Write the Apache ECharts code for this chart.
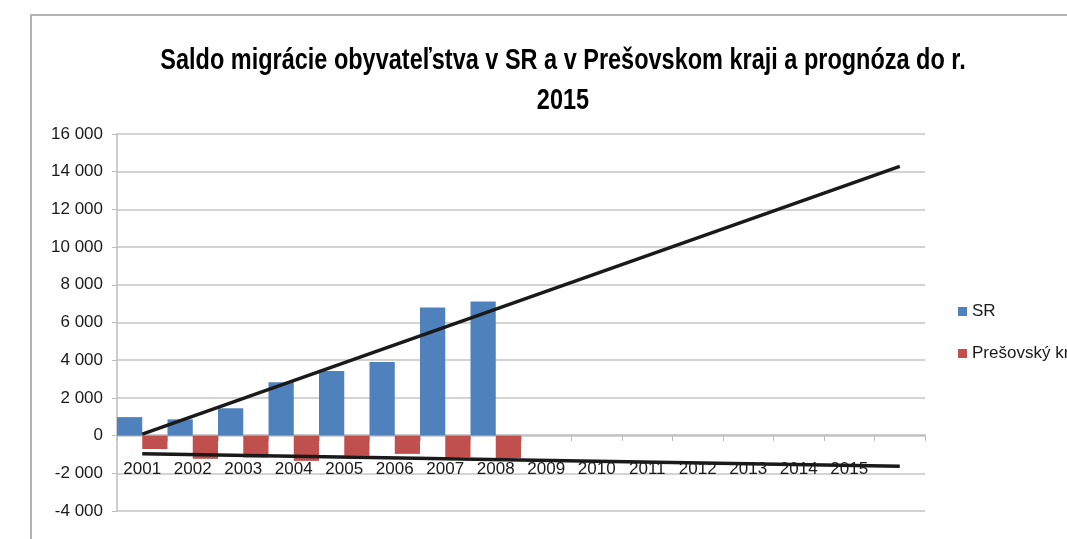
<!DOCTYPE html>
<html>
<head>
<meta charset="utf-8">
<title>Saldo migrácie</title>
<script src="https://cdn.jsdelivr.net/npm/echarts@6/dist/echarts.min.js"></script>
<style>
  html, body { margin: 0; padding: 0; background: #fff; }
  #chart { width: 1067px; height: 539px; }
</style>
</head>
<body>
<div id="chart"></div>
<script>
// roky (posledná kategória je prázdna, len pre koniec trendu)
const years = ['2001', '2002', '2003', '2004', '2005', '2006', '2007', '2008',
  '2009', '2010', '2011', '2012', '2013', '2014', '2015', '']

// saldo migrácie - odčítané z grafu
const srData = [980, 860, 1450, 2830, 3430, 3910, 6790, 7110]
const presovData = [-710, -1230, -1160, -1340, -1070, -970, -1150, -1190]

// lineárne trendy (začiatok 2001, koniec za 2015)
const srTrend = [80, null, null, null, null, null, null, null,
  null, null, null, null, null, null, null, 14280]
const presovTrend = [-960, null, null, null, null, null, null, null,
  null, null, null, null, null, null, null, -1630]

const titleLines = ['Saldo migrácie obyvateľstva v SR a v Prešovskom kraji a prognóza do r.', '2015']

const fontName = '"Liberation Sans", Arial, sans-serif'

const chart = echarts.init(document.getElementById('chart'))

const fmt = (v) => String(v).replace(/\B(?=(\d{3})+(?!\d))/g, ' ')

const titleText = (txt, y) => ({
  type: 'text',
  x: 563,
  y: y,
  scaleX: 0.81,
  style: {
    x: 0,
    y: 0,
    text: txt,
    align: 'center',
    verticalAlign: 'middle',
    font: 'bold 29px ' + fontName,
    fill: '#000'
  }
})

chart.setOption({
  animation: false,
  textStyle: { fontFamily: fontName },
  graphic: [
    {
      type: 'rect',
      shape: { x: 31, y: 15, width: 1100, height: 600 },
      style: { fill: 'none', stroke: '#b4b4b4', lineWidth: 2 },
      z: -1
    },
    titleText(titleLines[0], 61),
    titleText(titleLines[1], 101)
  ],
  legend: {
    orient: 'vertical',
    left: 953,
    top: 298,
    itemWidth: 9,
    itemHeight: 9,
    itemGap: 25,
    icon: 'rect',
    data: ['SR', 'Prešovský kraj'],
    textStyle: { fontFamily: fontName, fontSize: 17, color: '#1a1a1a' }
  },
  grid: {
    left: 117,
    right: 142,
    top: 134,
    bottom: 28,
    containLabel: false,
    outerBoundsMode: 'none'
  },
  xAxis: {
    type: 'category',
    data: years,
    boundaryGap: true,
    offset: -76,
    axisLine: { onZero: false, lineStyle: { color: '#bcbcbc', width: 1.5 } },
    axisTick: { show: true, length: 6, lineStyle: { color: '#bcbcbc' } },
    axisLabel: {
      margin: 26,
      fontFamily: fontName,
      fontSize: 17,
      color: '#1a1a1a',
      interval: 0
    },
    splitLine: { show: false }
  },
  yAxis: {
    type: 'value',
    min: -4000,
    max: 16000,
    interval: 2000,
    axisLine: { show: true, lineStyle: { color: '#bcbcbc', width: 1.5 } },
    axisTick: { show: true, length: 5, lineStyle: { color: '#bcbcbc' } },
    axisLabel: {
      margin: 14,
      fontFamily: fontName,
      fontSize: 17,
      color: '#1a1a1a',
      formatter: fmt
    },
    splitLine: { show: true, lineStyle: { color: '#c4c4c4', width: 1.5 } }
  },
  series: [
    {
      name: 'SR',
      type: 'bar',
      data: srData,
      barGap: '0%',
      barCategoryGap: '0%',
      itemStyle: { color: '#4f81bd' }
    },
    {
      name: 'Prešovský kraj',
      type: 'bar',
      data: presovData,
      barGap: '0%',
      barCategoryGap: '0%',
      itemStyle: { color: '#c0504d' }
    },
    {
      name: 'trend SR',
      type: 'line',
      data: srTrend,
      connectNulls: true,
      showSymbol: false,
      lineStyle: { color: '#1a1a1a', width: 3.5 },
      z: 5
    },
    {
      name: 'trend PO',
      type: 'line',
      data: presovTrend,
      connectNulls: true,
      showSymbol: false,
      lineStyle: { color: '#1a1a1a', width: 3.5 },
      z: 5
    }
  ]
})
</script>
</body>
</html>
